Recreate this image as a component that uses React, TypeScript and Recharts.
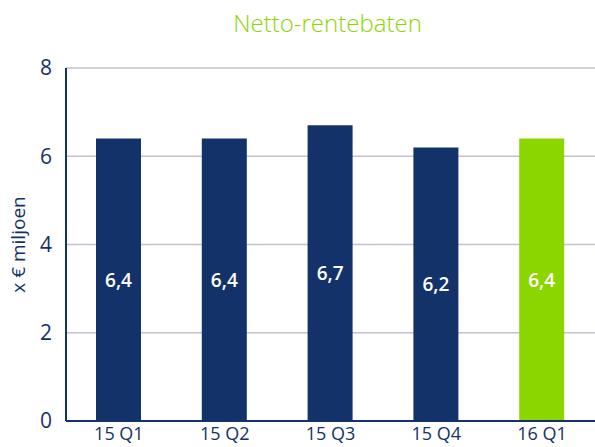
import { Bar, BarChart, CartesianGrid, Cell, LabelList, XAxis, YAxis } from 'recharts'

const quarters = ['15 Q1', '15 Q2', '15 Q3', '15 Q4', '16 Q1']
const netInterest = [6.4, 6.4, 6.7, 6.2, 6.4]
const yTicks = [0, 2, 4, 6, 8]

const NAVY = '#14326a'
const GREEN = '#8cd600'

const rows = quarters.map((q, i) => ({ quarter: q, value: netInterest[i] }))

export default function App() {
  return (
    <div style={{ position: 'absolute', left: 0, top: 0, width: 595, height: 447, background: '#fff', fontFamily: '"Open Sans", sans-serif', overflow: 'hidden' }}>
      <div style={{ position: 'absolute', top: 6, left: 60, right: 0, textAlign: 'center', color: GREEN, fontSize: 24, fontWeight: 300 }}>
        Netto-rentebaten
      </div>
      <BarChart width={595} height={447} data={rows} margin={{ top: 68, right: 0, bottom: 0, left: 0 }}>
        <CartesianGrid vertical={false} stroke="#c4c0d6" strokeWidth={1.5} />
        <XAxis
          dataKey="quarter"
          height={26}
          tickLine={false}
          axisLine={{ stroke: NAVY, strokeWidth: 2 }}
          tick={{ fill: NAVY, fontSize: 18 }}
          tickMargin={0}
          interval={0}
        />
        <YAxis
          width={66}
          domain={[0, 8]}
          ticks={yTicks}
          tickLine={false}
          axisLine={{ stroke: NAVY, strokeWidth: 2 }}
          tick={{ fill: NAVY, fontSize: 21 }}
          tickMargin={8}
          label={{ value: 'x € miljoen', angle: -90, position: 'insideLeft', offset: 18, fill: NAVY, fontSize: 19, style: { textAnchor: 'middle' } }}
        />
        <Bar dataKey="value" barSize={45} isAnimationActive={false}>
          {rows.map((r, i) => (
            <Cell key={r.quarter} fill={i === rows.length - 1 ? GREEN : NAVY} />
          ))}
          <LabelList
            dataKey="value"
            position="center"
            formatter={(v: unknown) => String(v).replace('.', ',')}
            fill="#fff"
            fontSize={19}
            fontWeight={600}
          />
        </Bar>
      </BarChart>
    </div>
  )
}
